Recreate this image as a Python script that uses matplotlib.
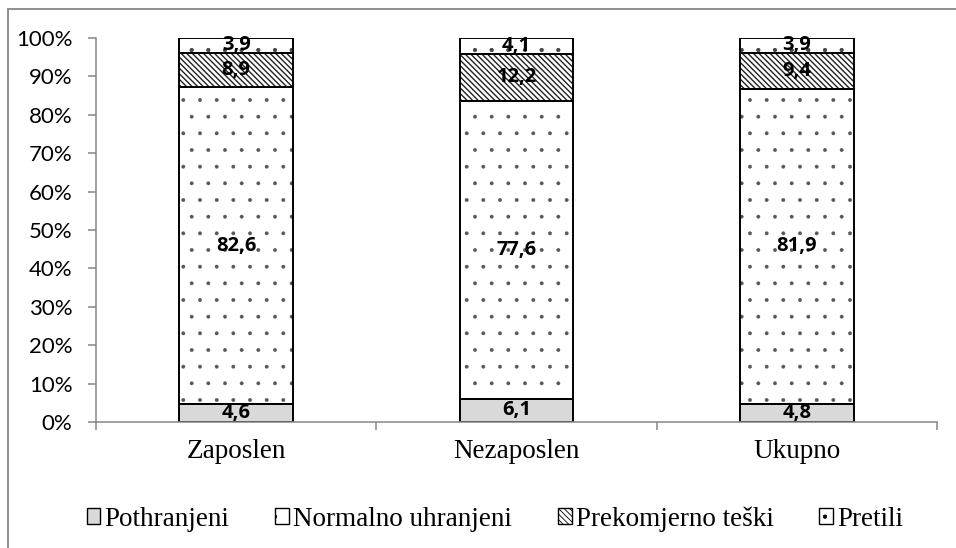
import matplotlib
matplotlib.use("Agg")
import matplotlib.pyplot as plt
from matplotlib.patches import Rectangle, Patch
import numpy as np

categories = ["Zaposlen", "Nezaposlen", "Ukupno"]
series_names = ["Pothranjeni", "Normalno uhranjeni", "Prekomjerno teški", "Pretili"]
pothranjeni = [4.6, 6.1, 4.8]
normalno = [82.6, 77.6, 81.9]
prekomjerno = [8.9, 12.2, 9.4]
pretili = [3.9, 4.1, 3.9]
y_ticks = [0, 10, 20, 30, 40, 50, 60, 70, 80, 90, 100]

series = [pothranjeni, normalno, prekomjerno, pretili]
faces = ["#d9d9d9", "white", "white", "white"]
hatches = [None, ".", "\\" * 6, "."]
hatch_lw = [1.0, 0.3, 1.0, 0.6]
hatch_col = ["black", "#555555", "#222222", "#444444"]

fig = plt.figure(figsize=(9.56, 5.48), dpi=100)
ax = fig.add_axes([96/956, 1-422/548, (937-96)/956, (422-38)/548])

x = np.arange(len(categories))
bottom = np.zeros(len(categories))
gray = "#868686"
for vals, fc, h, hl, hc in zip(series, faces, hatches, hatch_lw, hatch_col):
    plt.rcParams['hatch.linewidth'] = hl
    ax.bar(x, vals, width=0.405, bottom=bottom, color=fc, edgecolor=hc,
           linewidth=0, hatch=h, zorder=2)
    ax.bar(x, vals, width=0.405, bottom=bottom, fill=False, edgecolor="black",
           linewidth=1.4, zorder=2.5)
    for xi, b, v in zip(x, bottom, vals):
        ax.text(xi, b + v/2, f"{v:.1f}".replace(".", ","), ha="center", va="center",
                fontsize=14.5, fontweight="bold", family="Open Sans", zorder=3)
    bottom += np.array(vals)

ax.set_xlim(-0.5, 2.5)
ax.set_ylim(0, 100)
ax.set_yticks(y_ticks)
ax.set_yticklabels([f"{t}%" for t in y_ticks], family="Lato", fontsize=16)
ax.set_xticks(x)
ax.set_xticklabels(categories, family="Liberation Serif", fontsize=19.5)
ax.set_xticks([-0.5, 0.5, 1.5, 2.5], minor=True)
ax.tick_params(axis="x", which="major", length=0, pad=12)
ax.tick_params(axis="x", which="minor", length=6, width=1.1, color=gray, direction="out")
ax.tick_params(axis="y", length=6, width=1.1, color=gray, pad=11)
for s in ["top", "right"]:
    ax.spines[s].set_visible(False)
for s in ["left", "bottom"]:
    ax.spines[s].set_color(gray)
    ax.spines[s].set_linewidth(1.1)

handles = []
for fc, h, hl in zip(faces, hatches, hatch_lw):
    plt.rcParams['hatch.linewidth'] = hl
    handles.append(Patch(facecolor=fc, edgecolor="black", hatch=h, linewidth=1.0))
fig.legend(handles, series_names, loc="center", bbox_to_anchor=(495/956, 1-519/548),
           ncol=4, frameon=False, prop={"family": "Liberation Serif", "size": 19.5},
           handlelength=0.5, handleheight=0.5, handletextpad=0.15, columnspacing=1.7)

fig.patches.append(Rectangle((8/956, -0.1), 1.2, 1.1 - 9/548, transform=fig.transFigure,
                             fill=False, edgecolor=gray, linewidth=1.3, zorder=0))

fig.savefig("out.png", dpi=100)
